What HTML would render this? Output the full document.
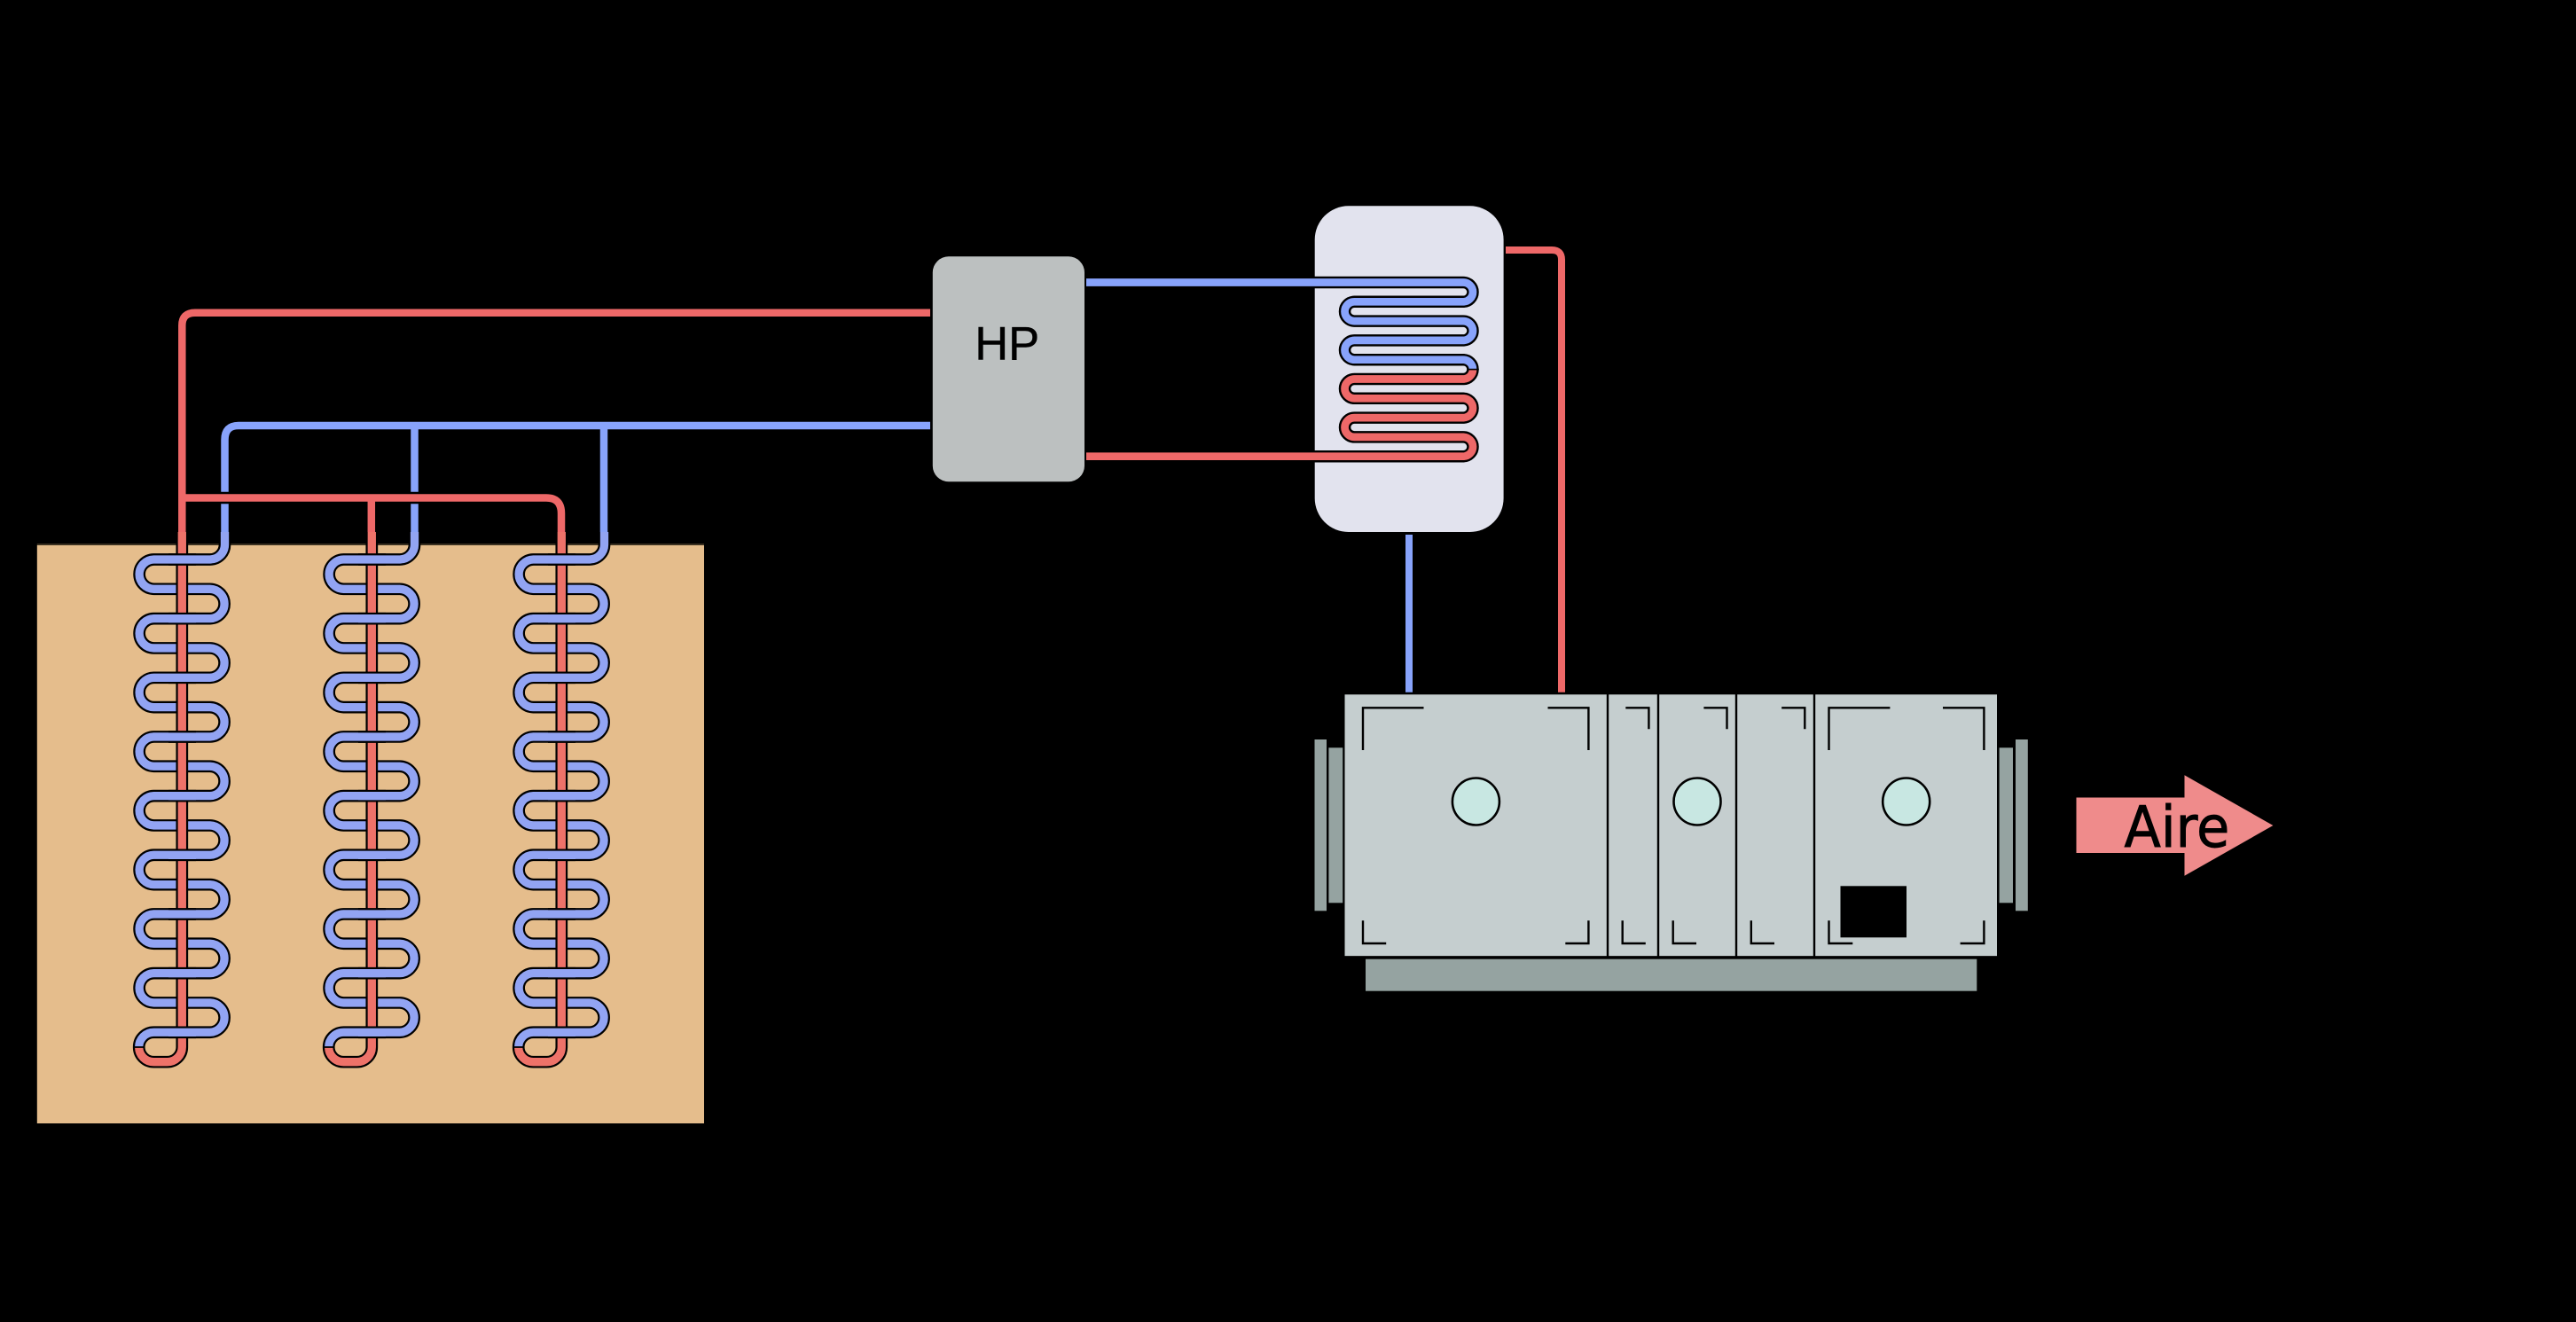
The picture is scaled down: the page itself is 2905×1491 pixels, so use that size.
<!DOCTYPE html>
<html><head><meta charset="utf-8"><style>
html,body{margin:0;padding:0;background:#000;width:2905px;height:1491px;overflow:hidden}
svg{display:block}
</style></head><body>
<svg xmlns="http://www.w3.org/2000/svg" width="2905" height="1491" viewBox="0 0 2905 1491">
<rect width="2905" height="1491" fill="#000"/>
<defs>
<g id="col" fill="none">
<path d="M253.5 600V614.3a16.67 16.67 0 0 1 -16.67 16.67H173.37a16.67 16.67 0 0 0 0 33.33h63.46a16.67 16.67 0 0 1 0 33.33h-63.46a16.67 16.67 0 0 0 0 33.33h63.46a16.67 16.67 0 0 1 0 33.33h-63.46a16.67 16.67 0 0 0 0 33.33h63.46a16.67 16.67 0 0 1 0 33.33h-63.46a16.67 16.67 0 0 0 0 33.33h63.46a16.67 16.67 0 0 1 0 33.33h-63.46a16.67 16.67 0 0 0 0 33.33h63.46a16.67 16.67 0 0 1 0 33.33h-63.46a16.67 16.67 0 0 0 0 33.33h63.46a16.67 16.67 0 0 1 0 33.33h-63.46a16.67 16.67 0 0 0 0 33.33h63.46a16.67 16.67 0 0 1 0 33.33h-63.46a16.67 16.67 0 0 0 0 33.33h63.46a16.67 16.67 0 0 1 0 33.33h-63.46a16.67 16.67 0 0 0 -16.67 16.67" stroke="#000" stroke-width="13.7"/>
<path d="M253.5 600V614.3a16.67 16.67 0 0 1 -16.67 16.67H173.37a16.67 16.67 0 0 0 0 33.33h63.46a16.67 16.67 0 0 1 0 33.33h-63.46a16.67 16.67 0 0 0 0 33.33h63.46a16.67 16.67 0 0 1 0 33.33h-63.46a16.67 16.67 0 0 0 0 33.33h63.46a16.67 16.67 0 0 1 0 33.33h-63.46a16.67 16.67 0 0 0 0 33.33h63.46a16.67 16.67 0 0 1 0 33.33h-63.46a16.67 16.67 0 0 0 0 33.33h63.46a16.67 16.67 0 0 1 0 33.33h-63.46a16.67 16.67 0 0 0 0 33.33h63.46a16.67 16.67 0 0 1 0 33.33h-63.46a16.67 16.67 0 0 0 0 33.33h63.46a16.67 16.67 0 0 1 0 33.33h-63.46a16.67 16.67 0 0 0 0 33.33h63.46a16.67 16.67 0 0 1 0 33.33h-63.46a16.67 16.67 0 0 0 -16.67 16.67" stroke="#92a4f3" stroke-width="9.3"/>
<path d="M205.3 600V1181a16.67 16.67 0 0 1 -16.67 16.67h-15.26a16.67 16.67 0 0 1 -16.67 -16.67" stroke="#000" stroke-width="13.7"/>
<path d="M205.3 600V1181a16.67 16.67 0 0 1 -16.67 16.67h-15.26a16.67 16.67 0 0 1 -16.67 -16.67" stroke="#ee7269" stroke-width="9.3"/>
<path d="M150 1181H163.5" stroke="#000" stroke-width="1.8"/>
<path d="M190 631H221M190 697.67H221M190 764.33H221M190 831H221M190 897.67H221M190 964.33H221M190 1031H221M190 1097.67H221M190 1164.33H221" stroke="#000" stroke-width="13.7"/>
<path d="M190 631H221M190 697.67H221M190 764.33H221M190 831H221M190 897.67H221M190 964.33H221M190 1031H221M190 1097.67H221M190 1164.33H221" stroke="#92a4f3" stroke-width="9.3"/>
</g>
</defs>

<!-- ground -->
<rect x="41.8" y="615" width="752.2" height="652" fill="#e5bd8c"/>
<rect x="41.8" y="613" width="752.2" height="2" fill="#3a3020"/>

<!-- blue trunks -->
<g fill="none" stroke="#88a3fb" stroke-width="8.5">
<path d="M1049 480H269Q253.5 480 253.5 496V600"/>
<path d="M467.5 480V600"/>
<path d="M681 480V600"/>
</g>
<!-- red trunks -->
<path d="M210 561.5H616" fill="none" stroke="#000" stroke-width="13.4"/>
<g fill="none" stroke="#ee6868" stroke-width="8.5">
<path d="M1049 352.7H220Q205.3 352.7 205.3 367V600"/>
<path d="M205.3 561.5H616Q633 561.5 633 579V600"/>
<path d="M418.8 561.5V600"/>
</g>

<use href="#col"/>
<use href="#col" transform="translate(214 0)"/>
<use href="#col" transform="translate(428 0)"/>

<!-- heat pump -->
<rect x="1051.8" y="289.3" width="171.2" height="254" rx="18" ry="18" fill="#bcc0c0"/>
<text x="1099.2" y="405.7" font-family="'Liberation Sans',sans-serif" font-size="52.6" fill="#000" stroke="#000" stroke-width="0.4">HP</text>

<!-- tank -->
<rect x="1482.7" y="232.3" width="212.9" height="367.7" rx="38" ry="38" fill="#e2e3ee"/>
<g fill="none">
<path d="M1225 318.5H1650.1a10.9 10.9 0 0 1 0 21.8H1527.4a10.9 10.9 0 0 0 0 21.8H1650.1a10.9 10.9 0 0 1 0 21.8H1527.4a10.9 10.9 0 0 0 0 21.8H1650.1a10.9 10.9 0 0 1 0 21.8H1527.4a10.9 10.9 0 0 0 0 21.8H1650.1a10.9 10.9 0 0 1 0 21.8H1527.4a10.9 10.9 0 0 0 0 21.8H1650.1a10.9 10.9 0 0 1 0 21.8H1225" stroke="#000" stroke-width="13.5"/>
<path d="M1225 318.5H1650.1a10.9 10.9 0 0 1 0 21.8H1527.4a10.9 10.9 0 0 0 0 21.8H1650.1a10.9 10.9 0 0 1 0 21.8H1527.4a10.9 10.9 0 0 0 0 21.8H1650.1a10.9 10.9 0 0 1 10.9 10.9" stroke="#88a3fb" stroke-width="8.7"/>
<path d="M1661 416.6a10.9 10.9 0 0 1 -10.9 10.9H1527.4a10.9 10.9 0 0 0 0 21.8H1650.1a10.9 10.9 0 0 1 0 21.8H1527.4a10.9 10.9 0 0 0 0 21.8H1650.1a10.9 10.9 0 0 1 0 21.8H1225" stroke="#ee6868" stroke-width="8.7"/>
<path d="M1654.3 416.6H1667.7" stroke="#000" stroke-width="1.6"/>
</g>

<!-- pipes to AHU -->
<g fill="none" stroke-width="8">
<path d="M1589 603V780.7" stroke="#88a3fb"/>
<path d="M1698 282H1750Q1761 282 1761 293V780.7" stroke="#ee6868"/>
</g>

<!-- AHU -->
<rect x="1482.5" y="834" width="13.5" height="193.3" fill="#95a3a1"/>
<rect x="1498.4" y="843.3" width="15.8" height="175" fill="#95a3a1"/>
<rect x="2254.6" y="843.3" width="15.4" height="175" fill="#95a3a1"/>
<rect x="2273" y="834" width="13.8" height="193.3" fill="#95a3a1"/>
<rect x="1540" y="1081.7" width="689.3" height="36" fill="#95a3a1"/>
<rect x="1516.5" y="783.3" width="735.5" height="295" fill="#c5cecf"/>
<g fill="none" stroke="#000" stroke-width="2.4">
<path d="M1813 783V1080M1870 783V1080M1958 783V1080M2046 783V1080" />
<path d="M1605.5 798.3H1537V846M1745.5 798.3H1791.4V846M1537 1038.3V1064H1563.2M1765.3 1064H1791.4V1038.3"/>
<path d="M1833.3 798.3H1859.4V822.3M1829.7 1038.3V1064H1855.8"/>
<path d="M1921.4 798.3H1947.5V822.3M1886.7 1038.3V1064H1913"/>
<path d="M2009.2 798.3H2035.3V822.3M1974.8 1038.3V1064H2001"/>
<path d="M2131.4 798.3H2062.5V846M2191 798.3H2237.4V846M2062.5 1038.3V1064H2089.3M2210.6 1064H2237.4V1038.3"/>
</g>
<path d="M1516 1079.3H2252" stroke="#000" stroke-width="2"/>
<g fill="#c8e7e2" stroke="#000" stroke-width="2.6">
<circle cx="1664.4" cy="904" r="26.5"/>
<circle cx="1914" cy="904" r="26.5"/>
<circle cx="2149.7" cy="904" r="26.5"/>
</g>
<rect x="2075.5" y="999.3" width="74.5" height="58" fill="#000"/>

<!-- arrow -->
<polygon points="2341.5,899.5 2463.5,899.5 2463.5,874.3 2563.4,931 2463.5,987.7 2463.5,962 2341.5,962" fill="#ef8b8b"/>
<text x="2395.5" y="955" font-family="'DejaVu Sans',sans-serif" font-size="64" textLength="118.8" lengthAdjust="spacingAndGlyphs" fill="#000" stroke="#000" stroke-width="0.9">Aire</text>
</svg>
</body></html>
